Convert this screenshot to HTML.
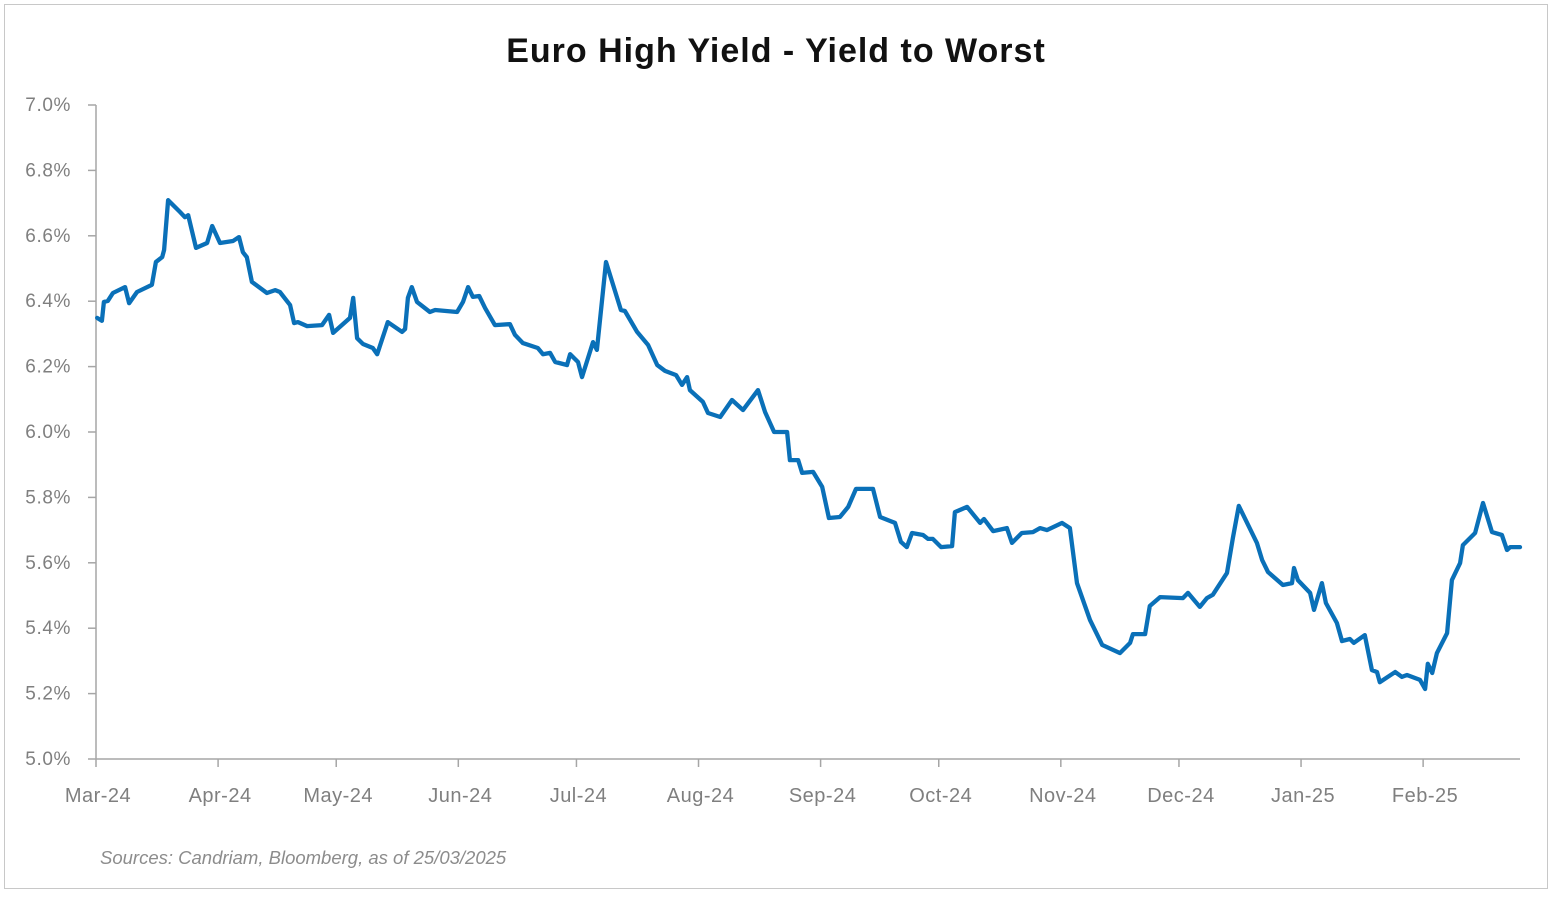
<!DOCTYPE html>
<html><head><meta charset="utf-8"><style>
body{margin:0;background:#fff;width:1552px;height:894px;overflow:hidden;font-family:"Liberation Sans",sans-serif}
</style></head><body>
<svg id="chart" width="1552" height="894" xmlns="http://www.w3.org/2000/svg">
<rect x="4.5" y="4.5" width="1543" height="884" fill="#fff" stroke="#c8c8c8"/>
<text x="776" y="62" text-anchor="middle" font-size="34" font-weight="900" letter-spacing="1" fill="#111">Euro High Yield - Yield to Worst</text>
<text x="100" y="864" font-size="18.5" font-style="italic" fill="#8c8c8c">Sources: Candriam, Bloomberg, as of 25/03/2025</text>
<g id="axes"></g>
<g id="series"></g>
</svg>
<script>
const days=[0.3,1.5,2.0,3.0,4.3,7.4,8.4,10.4,14.2,15.2,16.8,17.3,18.3,21.3,22.6,23.4,25.4,28.2,29.5,31.5,34.8,36.3,37.3,38.3,39.6,43.4,45.5,46.7,49.3,50.3,51.3,53.6,57.4,59.2,60.2,64.5,65.3,66.3,67.8,70.3,71.4,74.1,77.7,78.5,79.2,80.2,81.5,84.8,86.1,91.7,93.2,94.5,95.7,97.3,98.8,101.3,105.1,106.4,108.4,112.2,113.5,115.3,116.6,119.6,120.4,122.4,123.4,126.2,127.2,129.5,133.3,134.3,137.4,140.2,142.5,144.5,147.3,148.8,150.1,150.8,154.1,155.4,158.5,161.5,164.3,168.1,169.9,172.2,175.5,176.2,178.3,179.3,182.1,184.4,186.1,188.9,191.0,193.0,197.3,199.1,202.9,204.4,205.9,207.2,210.0,211.3,212.5,214.6,217.4,218.1,221.2,224.5,225.5,227.8,231.3,232.6,235.1,237.9,239.7,241.5,245.3,247.3,249.1,252.4,255.5,260.0,262.6,263.3,266.4,267.6,270.2,276.0,277.3,280.3,282.1,283.6,287.2,288.7,290.2,294.8,296.1,297.6,301.4,303.7,304.2,305.2,308.3,309.3,311.3,312.3,315.1,316.4,318.4,319.4,322.2,324.0,325.3,326.0,329.9,331.6,332.9,336.2,337.5,338.2,339.3,340.5,343.1,344.3,346.4,347.1,350.2,352.2,354.5,357.0,358.3,359.1,361.6];
const yields=[6.349,6.340,6.398,6.401,6.425,6.443,6.394,6.428,6.450,6.520,6.535,6.557,6.709,6.673,6.657,6.663,6.563,6.578,6.630,6.578,6.584,6.596,6.550,6.535,6.459,6.425,6.434,6.428,6.388,6.333,6.336,6.324,6.327,6.358,6.303,6.349,6.410,6.287,6.269,6.257,6.238,6.336,6.306,6.315,6.410,6.443,6.398,6.367,6.373,6.367,6.398,6.443,6.413,6.416,6.379,6.327,6.330,6.297,6.272,6.257,6.238,6.242,6.214,6.205,6.238,6.214,6.168,6.275,6.251,6.520,6.373,6.370,6.306,6.266,6.205,6.187,6.174,6.144,6.168,6.128,6.092,6.058,6.046,6.098,6.067,6.128,6.061,6.000,6.000,5.914,5.914,5.875,5.878,5.832,5.737,5.740,5.771,5.826,5.826,5.740,5.722,5.664,5.648,5.691,5.685,5.673,5.673,5.648,5.651,5.755,5.771,5.722,5.734,5.697,5.706,5.661,5.691,5.694,5.706,5.700,5.722,5.706,5.538,5.425,5.349,5.324,5.355,5.382,5.382,5.468,5.495,5.492,5.508,5.465,5.492,5.502,5.569,5.676,5.774,5.661,5.609,5.572,5.532,5.538,5.584,5.547,5.508,5.456,5.538,5.477,5.416,5.361,5.367,5.355,5.379,5.272,5.266,5.235,5.266,5.251,5.257,5.242,5.214,5.291,5.263,5.324,5.385,5.547,5.599,5.654,5.691,5.783,5.694,5.685,5.639,5.648,5.648];
const monthLabels=["Mar-24","Apr-24","May-24","Jun-24","Jul-24","Aug-24","Sep-24","Oct-24","Nov-24","Dec-24","Jan-25","Feb-25"];
const monthDays=[0,31,61,92,122,153,184,214,245,275,306,337];
const yTicks=[5.0,5.2,5.4,5.6,5.8,6.0,6.2,6.4,6.6,6.8,7.0];

const NS="http://www.w3.org/2000/svg";
const X0=96,X1=1520,Y0=759,Y1=105,DMAX=361.6,VMIN=5,VMAX=7;
const xs=d=>X0+(d/DMAX)*(X1-X0);
const ys=v=>Y0-(v-VMIN)/(VMAX-VMIN)*(Y0-Y1);
function mk(tag,attrs,parent){const e=document.createElementNS(NS,tag);for(const k in attrs)e.setAttribute(k,attrs[k]);parent.appendChild(e);return e;}
const axes=document.getElementById('axes');
let yl=mk('line',{x1:X0,y1:Y1,x2:X0,y2:Y0,stroke:'#a6a6a6','stroke-width':1.5},axes);


let xl=mk('line',{x1:X0,y1:Y0,x2:X1,y2:Y0,stroke:'#a6a6a6','stroke-width':1.5},axes);


yTicks.forEach(v=>{
  const t=mk('line',{x1:X0-8,y1:ys(v),x2:X0,y2:ys(v),stroke:'#a6a6a6','stroke-width':1.5},axes);
  
  
  const l=mk('text',{x:71,y:ys(v)+6,'text-anchor':'end','font-size':19,'letter-spacing':0.6,fill:'#7f7f7f'},axes);
  l.textContent=v.toFixed(1)+'%';
  
  
});
monthDays.forEach((d,i)=>{
  const t=mk('line',{x1:xs(d),y1:Y0,x2:xs(d),y2:Y0+8,stroke:'#a6a6a6','stroke-width':1.5},axes);
  
  
  const l=mk('text',{x:xs(d)+2,y:802,'text-anchor':'middle','font-size':20,'letter-spacing':0.5,fill:'#7f7f7f'},axes);
  l.textContent=monthLabels[i];
  
  
});
const pts=days.map((d,i)=>xs(d).toFixed(1)+','+ys(yields[i]).toFixed(1)).join(' ');
const line=mk('polyline',{points:pts,fill:'none',stroke:'#0a70b8','stroke-width':4.3,'stroke-linejoin':'round','stroke-linecap':'round'},document.getElementById('series'));


</script>
</body></html>
